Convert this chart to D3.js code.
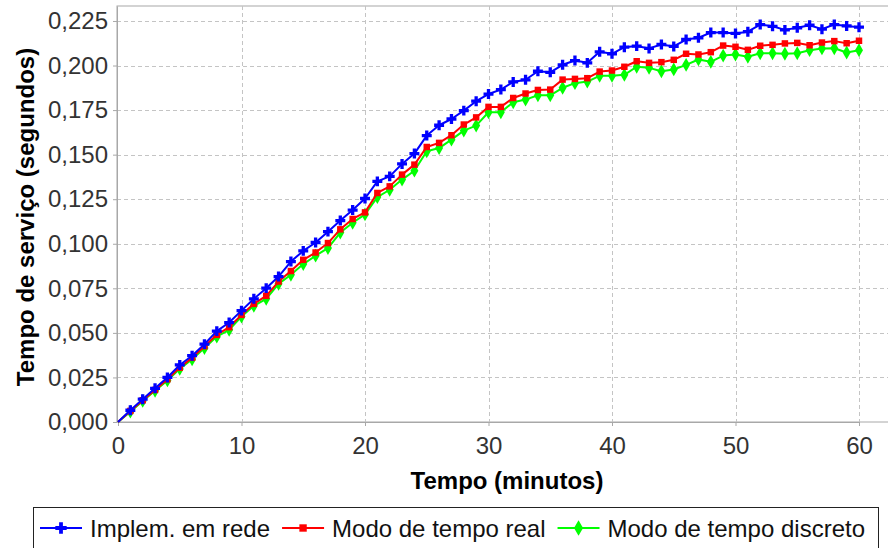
<!DOCTYPE html>
<html>
<head>
<meta charset="utf-8">
<script src="https://cdn.jsdelivr.net/npm/d3@7"></script>
<style>
  body { margin: 0; background: #fff; }
  svg { display: block; font-family: "Liberation Sans", Arial, sans-serif; }
</style>
</head>
<body>
<div id="chart"></div>
<script>
// minutes on the x axis
const minutes = [0, 1, 2, 3, 4, 5, 6, 7, 8, 9, 10, 11, 12, 13, 14, 15, 16, 17, 18, 19, 20,
  21, 22, 23, 24, 25, 26, 27, 28, 29, 30, 31, 32, 33, 34, 35, 36, 37, 38, 39, 40,
  41, 42, 43, 44, 45, 46, 47, 48, 49, 50, 51, 52, 53, 54, 55, 56, 57, 58, 59, 60];

const redeValues = [0, 0.0066, 0.0128, 0.0189, 0.0250, 0.0320, 0.0372, 0.0437, 0.0510, 0.0558, 0.0625,
  0.0691, 0.0751, 0.0816, 0.0900, 0.0960, 0.1007, 0.1068, 0.1130, 0.1189, 0.1254,
  0.1350, 0.1378, 0.1448, 0.1506, 0.1607, 0.1665, 0.1700, 0.1747, 0.1800, 0.1840,
  0.1865, 0.1908, 0.1920, 0.1968, 0.1962, 0.2004, 0.2028, 0.2015, 0.2077, 0.2066,
  0.2103, 0.2109, 0.2096, 0.2118, 0.2107, 0.2146, 0.2156, 0.2185, 0.2185, 0.2180,
  0.2190, 0.2230, 0.2220, 0.2200, 0.2212, 0.2226, 0.2204, 0.2230, 0.2222, 0.2215];

const realValues = [0, 0.0062, 0.0122, 0.0180, 0.0240, 0.0305, 0.0360, 0.0425, 0.0489, 0.0532, 0.0601,
  0.0663, 0.0708, 0.0788, 0.0847, 0.0910, 0.0951, 0.1004, 0.1081, 0.1139, 0.1176,
  0.1285, 0.1322, 0.1388, 0.1444, 0.1543, 0.1566, 0.1609, 0.1669, 0.1709, 0.1768,
  0.1768, 0.1818, 0.1843, 0.1863, 0.1865, 0.1921, 0.1925, 0.1929, 0.1966, 0.1972,
  0.1993, 0.2024, 0.2015, 0.2019, 0.2032, 0.2066, 0.2062, 0.2075, 0.2112, 0.2105,
  0.2088, 0.2111, 0.2116, 0.2124, 0.2127, 0.2114, 0.2129, 0.2137, 0.2125, 0.2139];

const discretoValues = [0, 0.0058, 0.0118, 0.0175, 0.0233, 0.0298, 0.0352, 0.0415, 0.0479, 0.0517, 0.0592,
  0.0652, 0.0691, 0.0775, 0.0826, 0.0886, 0.0933, 0.0976, 0.1063, 0.1118, 0.1165,
  0.1262, 0.1303, 0.1360, 0.1410, 0.1519, 0.1537, 0.1584, 0.1635, 0.1663, 0.1738,
  0.1738, 0.1794, 0.1809, 0.1833, 0.1833, 0.1875, 0.1901, 0.1910, 0.1942, 0.1942,
  0.1948, 0.1993, 0.1987, 0.1968, 0.1978, 0.2004, 0.2034, 0.2021, 0.2056, 0.2062,
  0.2049, 0.2069, 0.2069, 0.2066, 0.2069, 0.2086, 0.2096, 0.2097, 0.2073, 0.2086];

const seriesNames = ['Implem. em rede', 'Modo de tempo real', 'Modo de tempo discreto'];
const xTicks = [0, 10, 20, 30, 40, 50, 60];
const yTicks = [0, 0.025, 0.05, 0.075, 0.1, 0.125, 0.15, 0.175, 0.2, 0.225];

const width = 888;
const height = 548;
const plot = { left: 117, top: 6, right: 889, bottom: 422 };

const series = [
  { name: seriesNames[0], values: redeValues, color: '#0000ff', symbol: d3.symbolCross, size: 55 },
  { name: seriesNames[1], values: realValues, color: '#ff0000', symbol: d3.symbolSquare, size: 42 },
  { name: seriesNames[2], values: discretoValues, color: '#00ff00', symbol: d3.symbolDiamond, size: 55 },
];

const x = d3.scaleLinear()
  .domain([0, 60])
  .range([118, 859]);

const y = d3.scaleLinear()
  .domain([0, 0.2334])
  .range([plot.bottom, plot.top]);

const svg = d3.select('#chart')
  .append('svg')
  .attr('width', width)
  .attr('height', height);

// plot background
svg.append('rect')
  .attr('x', plot.left)
  .attr('y', plot.top)
  .attr('width', plot.right - plot.left)
  .attr('height', plot.bottom - plot.top)
  .attr('fill', '#fff')
  .attr('stroke', '#a8a8a8');

// grid
svg.append('g')
  .selectAll('line')
  .data(yTicks.filter(d => d > 0))
  .enter()
  .append('line')
  .attr('x1', plot.left)
  .attr('x2', plot.right)
  .attr('y1', d => Math.round(y(d)) + 0.5)
  .attr('y2', d => Math.round(y(d)) + 0.5)
  .attr('stroke', '#c4c4c4')
  .attr('stroke-dasharray', '4,3');

svg.append('g')
  .selectAll('line')
  .data(xTicks.filter(d => d > 0))
  .enter()
  .append('line')
  .attr('y1', plot.top)
  .attr('y2', plot.bottom)
  .attr('x1', d => Math.round(x(d)) + 0.5)
  .attr('x2', d => Math.round(x(d)) + 0.5)
  .attr('stroke', '#c4c4c4')
  .attr('stroke-dasharray', '4,3');

const formatY = v => d3.format('.3f')(v).replace('.', ',');

const xAxis = svg.append('g')
  .attr('transform', `translate(0, ${plot.bottom})`)
  .call(d3.axisBottom(x)
    .tickValues(xTicks)
    .tickSize(4)
    .tickPadding(11)
    .tickSizeOuter(0));

const yAxis = svg.append('g')
  .attr('transform', `translate(${plot.left}, 0)`)
  .call(d3.axisLeft(y)
    .tickValues(yTicks)
    .tickFormat(formatY)
    .tickSize(4)
    .tickPadding(5)
    .tickSizeOuter(0));

[xAxis, yAxis].forEach((ax) => {
  ax.select('.domain').attr('stroke', '#a8a8a8');
  ax.selectAll('.tick line').attr('stroke', '#a8a8a8');
  ax.selectAll('.tick text')
    .attr('fill', '#333')
    .style('font-size', '24px')
    .style('font-family', '"Liberation Sans", Arial, sans-serif');
});

svg.append('text')
  .attr('x', 507)
  .attr('y', 489)
  .attr('text-anchor', 'middle')
  .attr('font-weight', 'bold')
  .style('font-size', '24px')
  .text('Tempo (minutos)');

svg.append('text')
  .attr('transform', 'translate(34, 217) rotate(-90)')
  .attr('text-anchor', 'middle')
  .attr('font-weight', 'bold')
  .style('font-size', '24px')
  .text('Tempo de serviço (segundos)');

// lines, last series first so the blue one ends on top
const line = d3.line()
  .x((d, i) => x(minutes[i]))
  .y(d => y(d));

series.slice().reverse().forEach((s) => {
  const g = svg.append('g');
  g.append('path')
    .datum(s.values)
    .attr('fill', 'none')
    .attr('stroke', s.color)
    .attr('stroke-width', 2)
    .attr('stroke-linejoin', 'round')
    .attr('d', line);

  // the point at the origin has no marker in the original
  g.selectAll('path.pt')
    .data(s.values.map((v, i) => [minutes[i], v]).slice(1))
    .enter()
    .append('path')
    .attr('class', 'pt')
    .attr('transform', d => `translate(${x(d[0])}, ${y(d[1])})`)
    .attr('d', d3.symbol().type(s.symbol).size(s.size))
    .attr('fill', s.color);
});

// legend
const legend = svg.append('g');
legend.append('rect')
  .attr('x', 33.5)
  .attr('y', 507.5)
  .attr('width', 845)
  .attr('height', 60)
  .attr('fill', '#fff')
  .attr('stroke', '#222');

let lx = 40;
const ly = 528;
series.forEach((s) => {
  legend.append('line')
    .attr('x1', lx)
    .attr('x2', lx + 42)
    .attr('y1', ly)
    .attr('y2', ly)
    .attr('stroke', s.color)
    .attr('stroke-width', 2);
  legend.append('path')
    .attr('transform', `translate(${lx + 21}, ${ly})`)
    .attr('d', d3.symbol().type(s.symbol).size(s.size * 1.3))
    .attr('fill', s.color);
  const t = legend.append('text')
    .attr('x', lx + 50)
    .attr('y', ly + 9)
    .style('font-size', '24px')
    .attr('fill', '#111')
    .text(s.name);
  lx = lx + 50 + t.node().getComputedTextLength() + 12;
});
</script>
</body>
</html>
